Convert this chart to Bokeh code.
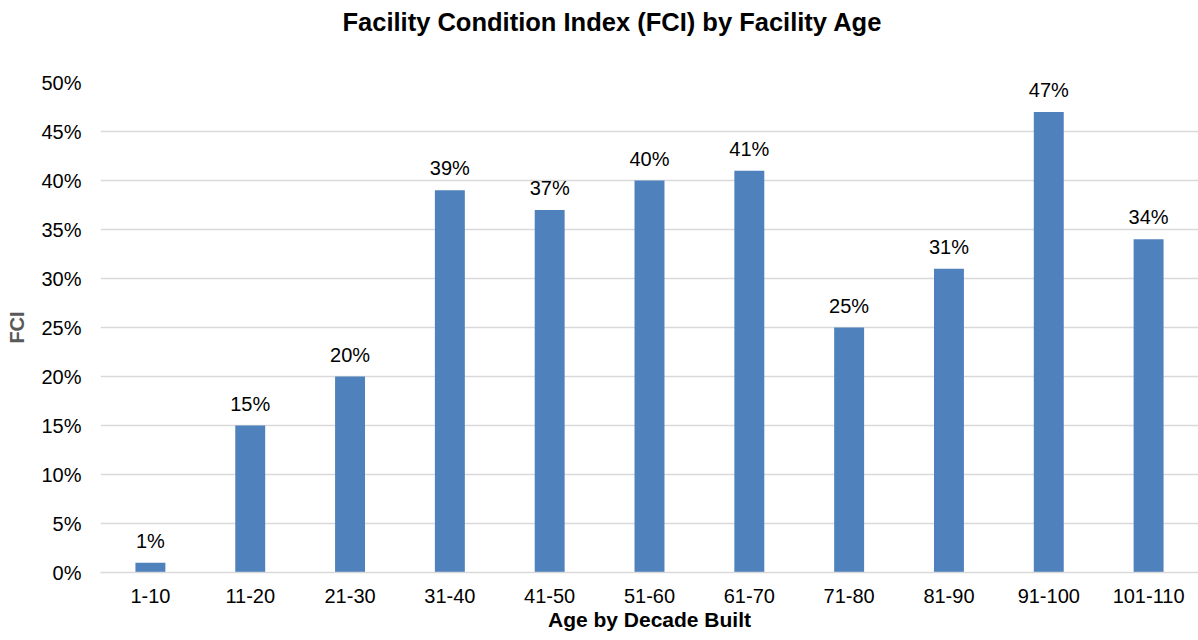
from bokeh.plotting import figure
from bokeh.models import ColumnDataSource, NumeralTickFormatter, FixedTicker, Range1d, Title
from bokeh.core.properties import value
from bokeh.embed import file_html
from bokeh.resources import INLINE

categories = ["1-10", "11-20", "21-30", "31-40", "41-50", "51-60",
              "61-70", "71-80", "81-90", "91-100", "101-110"]
fci = [0.01, 0.15, 0.20, 0.39, 0.37, 0.40, 0.41, 0.25, 0.31, 0.47, 0.34]
labels = ["1%", "15%", "20%", "39%", "37%", "40%", "41%", "25%", "31%", "47%", "34%"]
y_ticks = [0, 0.05, 0.10, 0.15, 0.20, 0.25, 0.30, 0.35, 0.40, 0.45, 0.50]
chart_title = "Facility Condition Index (FCI) by Facility Age"

FONT = "Liberation Sans"
BLUE = "#4F81BD"
GRID = "#D9D9D9"

src = ColumnDataSource(dict(cat=categories, val=fci, lab=labels))

p = figure(x_range=categories, y_range=Range1d(0, 0.5),
           width=1198, height=640, output_backend="svg", toolbar_location=None,
           title=None,
           min_border_left=100, min_border_right=0, min_border_bottom=68,
           min_border_top=82)

p.vbar(x="cat", top="val", width=0.3, source=src, fill_color=BLUE, line_color=None)
p.text(x="cat", y="val", text="lab", source=src, text_align="center",
       text_baseline="alphabetic", y_offset=-22, text_font=value(FONT),
       text_font_size="20px", text_color="#000000")

# spacer between the frame and the title (nearest the frame)
spacer = Title(text=" ", text_font_size="1px", standoff=35)
p.add_layout(spacer, "above")

main_title = Title(text=chart_title, text_font=FONT, text_font_size="25.5px",
                   text_font_style="bold", text_color="#000000",
                   align="left", offset=242, vertical_align="top", standoff=14)
p.add_layout(main_title, "above")

p.outline_line_color = None
p.background_fill_color = "white"
p.border_fill_color = "white"

p.xgrid.grid_line_color = None
p.ygrid.grid_line_color = GRID
p.ygrid.grid_line_width = 1.5

p.yaxis.ticker = FixedTicker(ticks=y_ticks)
p.yaxis.formatter = NumeralTickFormatter(format="0%")
p.yaxis.axis_line_color = None
p.yaxis.major_tick_line_color = None
p.yaxis.minor_tick_line_color = None
p.yaxis.major_tick_out = 0
p.yaxis.minor_tick_out = 0
p.yaxis.major_label_standoff = 19
p.yaxis.major_label_text_font = FONT
p.yaxis.major_label_text_font_size = "20px"
p.yaxis.major_label_text_color = "#000000"
p.yaxis.axis_label = "FCI"
p.yaxis.axis_label_text_font = FONT
p.yaxis.axis_label_text_font_size = "20px"
p.yaxis.axis_label_text_font_style = "bold"
p.yaxis.axis_label_text_color = "#595959"
p.yaxis.axis_label_standoff = 10

p.xaxis.axis_line_color = GRID
p.xaxis.axis_line_width = 1.5
p.xaxis.major_tick_line_color = None
p.xaxis.minor_tick_line_color = None
p.xaxis.major_tick_out = 0
p.xaxis.minor_tick_out = 0
p.xaxis.major_label_standoff = 16
p.xaxis.major_label_text_font = FONT
p.xaxis.major_label_text_font_size = "20px"
p.xaxis.major_label_text_color = "#000000"
p.xaxis.axis_label = "Age by Decade Built"
p.xaxis.axis_label_text_font = FONT
p.xaxis.axis_label_text_font_size = "21px"
p.xaxis.axis_label_text_font_style = "bold"
p.xaxis.axis_label_text_color = "#000000"
p.xaxis.axis_label_standoff = 2

open("out.html", "w").write(file_html(p, INLINE))
